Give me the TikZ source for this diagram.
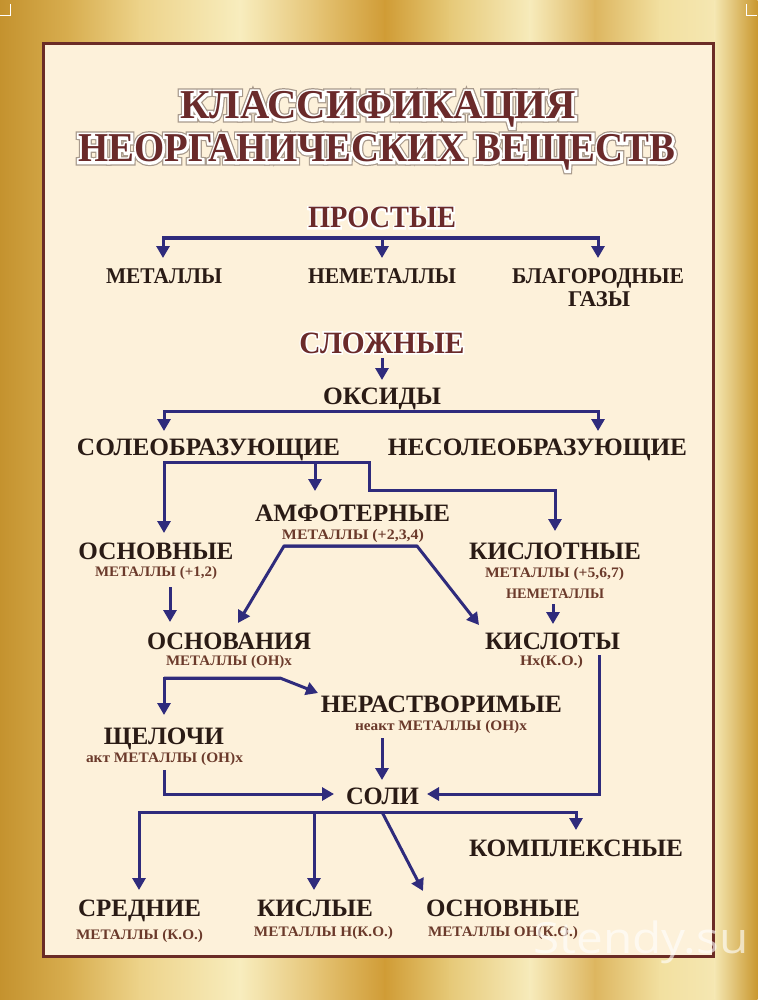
\documentclass[tikz,border=0pt]{standalone}
\usepackage{fontspec}
\usepackage{graphicx}
\setmainfont{Liberation Serif}
\newfontfamily\wmfont{Open Sans}
\newfontfamily\glowW[FakeBold=12]{Liberation Serif Bold}
\newfontfamily\glowG[FakeBold=18]{Liberation Serif Bold}
\newfontfamily\glowS[FakeBold=10]{Liberation Serif Bold}
\usetikzlibrary{arrows.meta}
\definecolor{arrowc}{HTML}{2F2B7C}
\definecolor{textdark}{HTML}{2A1B15}
\definecolor{titlec}{HTML}{6A2A2A}
\definecolor{subc}{HTML}{6B3A2B}
\definecolor{panelc}{HTML}{FDF1DA}
\definecolor{borderc}{HTML}{6B2C26}
\definecolor{shadowc}{HTML}{A89A8C}
\definecolor{g0}{HTML}{C4922E}
\definecolor{g1}{HTML}{D8AE50}
\definecolor{g2}{HTML}{EDD38A}
\definecolor{g3}{HTML}{F8EDBE}
\definecolor{g4}{HTML}{E4C272}
\definecolor{g5}{HTML}{D09C36}
\definecolor{g6}{HTML}{E6C978}
\definecolor{g7}{HTML}{F7EBBB}
\definecolor{g8}{HTML}{DDB660}
\definecolor{g9}{HTML}{F2E0A0}
\definecolor{g10}{HTML}{F5E7B2}
\definecolor{g11}{HTML}{C9982F}
\newcommand\sw[2]{\resizebox{#1pt}{\height}{#2}}
\newcommand\glowlab[6]{% name, x, y, style, width, text
  \node[#4,text=white,font=\glowS\fontsize{31}{35}\selectfont] at (#2,#3) {\sw{#5}{#6}};
  \node[#4] (#1) at (#2,#3) {\sw{#5}{#6}};}
\newcommand\ttlglow[5]{% name, x, y, width, text
  \node[ttl,text=shadowc,font=\glowG\fontsize{41}{45}\selectfont] at (#2,#3) {\sw{#4}{#5}};
  \node[ttl,text=white,font=\glowW\fontsize{41}{45}\selectfont] at (#2,#3) {\sw{#4}{#5}};
  \node[ttl] (#1) at (#2,#3) {\sw{#4}{#5}};}
\newcommand\lab[6]{% name, x, y, style, width, text
  \node[#4] (#1) at (#2,#3) {\sw{#5}{#6}};}
\tikzset{
  lab/.style={inner sep=0pt, anchor=base, text=textdark, font=\bfseries\fontsize{25}{29}\selectfont},
  labm/.style={lab, font=\bfseries\fontsize{22.5}{26}\selectfont},
  sub/.style={lab, text=subc, font=\bfseries\fontsize{14.5}{17}\selectfont},
  sect/.style={lab, text=titlec, font=\bfseries\fontsize{31}{35}\selectfont},
  ttl/.style={lab, text=titlec, font=\bfseries\fontsize{41}{45}\selectfont},
  conn/.style={draw=arrowc, line width=3pt},
  arr/.style={conn, -{Triangle[length=12pt,width=13pt]}},
}
\begin{document}
\begin{tikzpicture}[x=1pt,y=-1pt]
\useasboundingbox (0,0) rectangle (757,1000);
% gold frame
\foreach \xa/\xb/\ca/\cb in {0/70/g0/g1,70/140/g1/g2,140/240/g2/g3,240/320/g3/g4,320/385/g4/g5,385/450/g5/g6,450/530/g6/g7,530/595/g7/g8,595/660/g8/g9,660/715/g9/g10,715/757/g10/g11}
  {\shade[left color=\ca, right color=\cb] (\xa-0.5,0) rectangle (\xb+0.5,1000);}
% crop marks
\draw[white, line width=0.8pt] (0,15) -- (10,15) -- (10,4);
\draw[white, line width=0.8pt] (757,15) -- (746,15) -- (746,4);
% panel
\draw[line width=3.2pt, draw=borderc, fill=panelc] (43.5,43.5) rectangle (713.5,956.5);
% title
\ttlglow{t1}{378}{119}{395}{КЛАССИФИКАЦИЯ}
\ttlglow{t2}{377}{162}{597}{НЕОРГАНИЧЕСКИХ ВЕЩЕСТВ}
% simple
\glowlab{pros}{382}{228}{sect}{148}{ПРОСТЫЕ}
\lab{met}{164}{283.5}{labm}{116}{МЕТАЛЛЫ}
\lab{nemet}{382}{283.5}{labm}{148}{НЕМЕТАЛЛЫ}
\lab{blag}{598}{283.5}{labm}{172}{БЛАГОРОДНЫЕ}
\lab{gazy}{599}{306}{labm}{62}{ГАЗЫ}
% complex
\glowlab{slozh}{382}{353}{sect}{165}{СЛОЖНЫЕ}
\lab{oks}{382}{404}{lab}{118}{ОКСИДЫ}
\lab{soleo}{208.5}{455}{lab}{263}{СОЛЕОБРАЗУЮЩИЕ}
\lab{nesoleo}{537.5}{455}{lab}{299}{НЕСОЛЕОБРАЗУЮЩИЕ}
\lab{amf}{352.5}{521}{lab}{195}{АМФОТЕРНЫЕ}
\lab{amfs}{353}{539.5}{sub}{142}{МЕТАЛЛЫ (+2,3,4)}
\lab{osnv}{156}{559}{lab}{155}{ОСНОВНЫЕ}
\lab{osnvs}{156}{576}{sub}{122}{МЕТАЛЛЫ (+1,2)}
\lab{kisl}{555}{559}{lab}{172}{КИСЛОТНЫЕ}
\lab{kisls}{554.5}{577.5}{sub}{139}{МЕТАЛЛЫ (+5,6,7)}
\lab{kisln}{555}{598.5}{sub}{98}{НЕМЕТАЛЛЫ}
\lab{osnov}{229}{649}{lab}{164}{ОСНОВАНИЯ}
\lab{osnovs}{229}{665}{sub}{126}{МЕТАЛЛЫ (ОН)x}
\lab{kislot}{552.5}{649}{lab}{135}{КИСЛОТЫ}
\lab{kislots}{551.5}{665}{sub}{63}{Нx(К.О.)}
\lab{nerastv}{441.5}{712}{lab}{241}{НЕРАСТВОРИМЫЕ}
\lab{nerastvs}{441}{730.5}{sub}{172}{неакт МЕТАЛЛЫ (ОН)x}
\lab{shch}{164}{744}{lab}{120}{ЩЕЛОЧИ}
\lab{shchs}{164.5}{762.5}{sub}{157}{акт МЕТАЛЛЫ (ОН)x}
\lab{soli}{382.5}{804}{lab}{73}{СОЛИ}
\lab{kompl}{576}{856}{lab}{214}{КОМПЛЕКСНЫЕ}
\lab{sred}{139.5}{916}{lab}{123}{СРЕДНИЕ}
\lab{sreds}{139.5}{939.5}{sub}{127}{МЕТАЛЛЫ (К.О.)}
\lab{kislye}{315}{916}{lab}{116}{КИСЛЫЕ}
\lab{kislyes}{323.5}{936.5}{sub}{139}{МЕТАЛЛЫ Н(К.О.)}
\lab{osnb}{503}{916}{lab}{154}{ОСНОВНЫЕ}
\lab{osnbs}{503}{936.5}{sub}{150}{МЕТАЛЛЫ ОН(К.О.)}
% watermark
\node[anchor=base, inner sep=0pt, text=white, opacity=0.62, font=\wmfont\fontsize{43}{43}\selectfont] (wm) at (641,953) {\sw{215}{Stendy.su}};
% ---- connectors ----
\coordinate (pM) at (382,238);
\coordinate (pLt) at (163,258); \coordinate (pMt) at (382,258); \coordinate (pRt) at (598,258);
\draw[arr] (pM) -| (pLt);
\draw[arr] (pM) -| (pRt);
\draw[arr] (pM) -- (pMt);
\coordinate (sS) at (382,358); \coordinate (oT) at (382,380);
\draw[arr] (sS) -- (oT);
\coordinate (oM) at (382,411);
\coordinate (oLt) at (164,431); \coordinate (oRt) at (598,431);
\draw[arr] (oM) -| (oLt);
\draw[arr] (oM) -| (oRt);
\coordinate (cM) at (315,462);
\coordinate (cLt) at (164,533); \coordinate (cMt) at (315,491);
\coordinate (cR1) at (369,490); \coordinate (cRt) at (555,531);
\draw[arr] (cM) -| (cLt);
\draw[arr] (cM) -- (cMt);
\draw[arr] (cM) -| (cR1) -| (cRt);
\coordinate (mL) at (284,546); \coordinate (mR) at (417,546);
\coordinate (mLt) at (238,623); \coordinate (mRt) at (479,625);
\draw[arr] (mR) -- (mL) -- (mLt);
\draw[arr] (mL) -- (mR) -- (mRt);
\coordinate (bS) at (170,587); \coordinate (bT) at (170,622);
\draw[arr] (bS) -- (bT);
\coordinate (nS) at (553,604); \coordinate (nT) at (553,624);
\draw[arr] (nS) -- (nT);
\coordinate (hL) at (164,678); \coordinate (hK) at (280,678);
\coordinate (hLt) at (164,715); \coordinate (hRt) at (318,693);
\draw[arr] (hK) -- (hL) -- (hLt);
\draw[arr] (hL) -- (hK) -- (hRt);
\coordinate (rS) at (382,738); \coordinate (rT) at (382,780);
\draw[arr] (rS) -- (rT);
\coordinate (qS) at (164,770); \coordinate (qT) at (334,794);
\draw[arr] (qS) |- (qT);
\coordinate (kS) at (599,655); \coordinate (kT) at (427,794);
\draw[arr] (kS) |- (kT);
\coordinate (lD) at (382,812);
\coordinate (lLt) at (139,890); \coordinate (lMt) at (314,890);
\coordinate (lRt) at (576,830); \coordinate (lDt) at (423,891);
\draw[arr] (lD) -| (lLt);
\draw[arr] (lD) -| (lMt);
\draw[arr] (lD) -| (lRt);
\draw[arr] (lD) -- (lDt);
\end{tikzpicture}
\end{document}
